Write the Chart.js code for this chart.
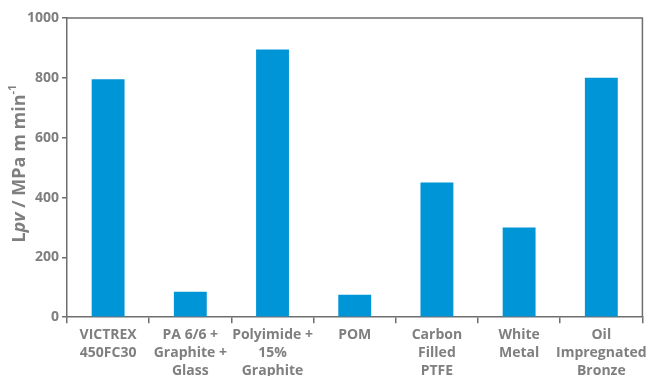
<!DOCTYPE html>
<html>
<head>
<meta charset="utf-8">
<script src="https://cdn.jsdelivr.net/npm/chart.js@4"></script>
<style>
  html, body { margin: 0; padding: 0; background: #fff; overflow: hidden; }
  #wrap { width: 650px; height: 383px; position: relative; }
</style>
</head>
<body>
<div id="wrap"><canvas id="lpvChart"></canvas></div>
<script>
const materials = [
  ['VICTREX', '450FC30'],
  ['PA 6/6 +', 'Graphite +', 'Glass'],
  ['Polyimide +', '15%', 'Graphite'],
  ['POM'],
  ['Carbon', 'Filled', 'PTFE'],
  ['White', 'Metal'],
  ['Oil', 'Impregnated', 'Bronze']
];
const lpvValues = [795, 85, 895, 75, 450, 300, 800];
const yTicks = [0, 200, 400, 600, 800, 1000];

const axisGray = '#6e6e6e';
const textGray = '#7f7f7f';
const font = { family: '"Open Sans", "DejaVu Sans", sans-serif', weight: 'bold', size: 14, lineHeight: 1.28 };

// box around the plot area (top + right edges) and the y title with italic "pv"
const frame = {
  id: 'frame',
  afterDraw(chart) {
    const { ctx, chartArea: a } = chart;
    ctx.save();
    ctx.strokeStyle = axisGray;
    ctx.lineWidth = 1.5;
    ctx.beginPath();
    ctx.moveTo(a.left, a.top);
    ctx.lineTo(a.right, a.top);
    ctx.lineTo(a.right, a.bottom);
    ctx.stroke();

    // y axis title
    const parts = [
      ['L', 'bold 18px "Open Sans", sans-serif', 0],
      ['pv', 'italic bold 18px "Open Sans", sans-serif', 0],
      [' / MPa m min', 'bold 18px "Open Sans", sans-serif', 0],
      ['-1', 'bold 11px "Open Sans", sans-serif', -7]
    ];
    let total = 0;
    parts.forEach(p => { ctx.font = p[1]; total += ctx.measureText(p[0]).width; });
    ctx.translate(20, (a.top + a.bottom) / 2 - 4);
    ctx.rotate(-Math.PI / 2);
    ctx.fillStyle = textGray;
    ctx.textBaseline = 'middle';
    let x = -total / 2;
    parts.forEach(p => {
      ctx.font = p[1];
      ctx.fillText(p[0], x, p[2]);
      x += ctx.measureText(p[0]).width;
    });
    ctx.restore();
  }
};

new Chart(document.getElementById('lpvChart'), {
  type: 'bar',
  data: {
    labels: materials,
    datasets: [{
      data: lpvValues,
      backgroundColor: '#0095d6',
      barPercentage: 0.4,
      categoryPercentage: 1.0
    }]
  },
  options: {
    responsive: true,
    maintainAspectRatio: false,
    animation: false,
    layout: { padding: { top: 18, right: 5, left: 24, bottom: 0 } },
    plugins: { legend: { display: false }, tooltip: { enabled: false } },
    scales: {
      x: {
        grid: { display: true, drawOnChartArea: false, tickLength: 6, color: axisGray, lineWidth: 1.5 },
        border: { color: axisGray, width: 1.5 },
        ticks: { color: textGray, font: font, maxRotation: 0, autoSkip: false, padding: 3 }
      },
      y: {
        min: 0,
        max: 1000,
        afterBuildTicks(axis) { axis.ticks = yTicks.map(v => ({ value: v })); },
        grid: { display: true, drawOnChartArea: false, tickLength: 5, color: axisGray, lineWidth: 1.5 },
        border: { color: axisGray, width: 1.5 },
        ticks: { color: textGray, font: font, padding: 3, callback: v => String(v) }
      }
    }
  },
  plugins: [frame]
});
</script>
</body>
</html>
